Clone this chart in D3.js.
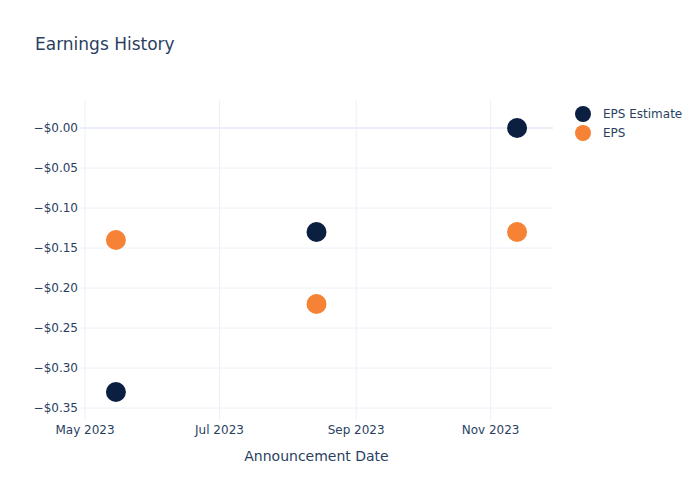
<!DOCTYPE html>
<html>
<head>
<meta charset="utf-8">
<script src="https://cdn.jsdelivr.net/npm/d3@7"></script>
<style>
  body { margin: 0; background: #fff; }
  text { font-family: "DejaVu Sans", Verdana, sans-serif; fill: #2a3f5f; }
</style>
</head>
<body>
<div id="chart"></div>
<script>
const dates = ["2023-05-15", "2023-08-14", "2023-11-13"];
const epsEstimate = [-0.33, -0.13, 0.0];
const eps = [-0.14, -0.22, -0.13];
const yTicks = [0, -0.05, -0.10, -0.15, -0.20, -0.25, -0.30, -0.35];
const xTicks = ["2023-05-01", "2023-07-01", "2023-09-01", "2023-11-01"];
const seriesNames = ["EPS Estimate", "EPS"];
const colors = ["#0b1f40", "#f58235"];

const W = 700, H = 500;
const margin = { top: 100, right: 147, bottom: 80, left: 80 };
const width = W - margin.left - margin.right;
const height = H - margin.top - margin.bottom;

const parse = d3.timeParse("%Y-%m-%d");

const svg = d3.select("#chart").append("svg")
  .attr("width", W)
  .attr("height", H);

const g = svg.append("g")
  .attr("transform", `translate(${margin.left},${margin.top})`);

const x = d3.scaleTime()
  .domain([new Date(2023, 3, 28, 17), new Date(2023, 10, 29, 7)])
  .range([0, width]);

const y = d3.scaleLinear()
  .domain([-0.365, 0.035])
  .range([height, 0]);

// grid
g.selectAll(".vgrid")
  .data(xTicks.map(parse))
  .enter().append("line")
  .attr("x1", d => x(d)).attr("x2", d => x(d))
  .attr("y1", 0).attr("y2", height)
  .attr("stroke", "#ebf0f8").attr("stroke-width", 1);

g.selectAll(".hgrid")
  .data(yTicks)
  .enter().append("line")
  .attr("x1", 0).attr("x2", width)
  .attr("y1", d => y(d)).attr("y2", d => y(d))
  .attr("stroke", "#ebf0f8")
  .attr("stroke-width", d => d === 0 ? 2 : 1);

// y tick labels
g.selectAll(".ylab")
  .data(yTicks)
  .enter().append("text")
  .attr("x", -2)
  .attr("y", d => y(d))
  .attr("dy", "0.35em")
  .style("text-anchor", "end")
  .style("font-size", "12px")
  .text(d => "\u2212$" + Math.abs(d).toFixed(2));

// x tick labels
g.selectAll(".xlab")
  .data(xTicks.map(parse))
  .enter().append("text")
  .attr("x", d => x(d))
  .attr("y", height + 14)
  .style("text-anchor", "middle")
  .style("font-size", "12px")
  .text(d => d3.timeFormat("%b %Y")(d));

// points
const series = [epsEstimate, eps];
series.forEach((vals, i) => {
  g.selectAll(".pt" + i)
    .data(vals.map((v, j) => ({ date: parse(dates[j]), value: v })))
    .enter().append("circle")
    .attr("cx", d => x(d.date))
    .attr("cy", d => y(d.value))
    .attr("r", 10)
    .attr("fill", colors[i]);
});

// axis title
svg.append("text")
  .attr("x", margin.left + width / 2)
  .attr("y", 461)
  .style("text-anchor", "middle")
  .style("font-size", "14px")
  .text("Announcement Date");

// title
svg.append("text")
  .attr("x", 35)
  .attr("y", 50)
  .style("font-size", "17px")
  .text("Earnings History");

// legend
const legend = svg.append("g")
  .attr("transform", "translate(583,114)");
seriesNames.forEach((name, i) => {
  legend.append("circle")
    .attr("cx", 0).attr("cy", i * 19)
    .attr("r", 8)
    .attr("fill", colors[i]);
  legend.append("text")
    .attr("x", 20).attr("y", i * 19)
    .attr("dy", "0.35em")
    .style("font-size", "12px")
    .text(name);
});
</script>
</body>
</html>
